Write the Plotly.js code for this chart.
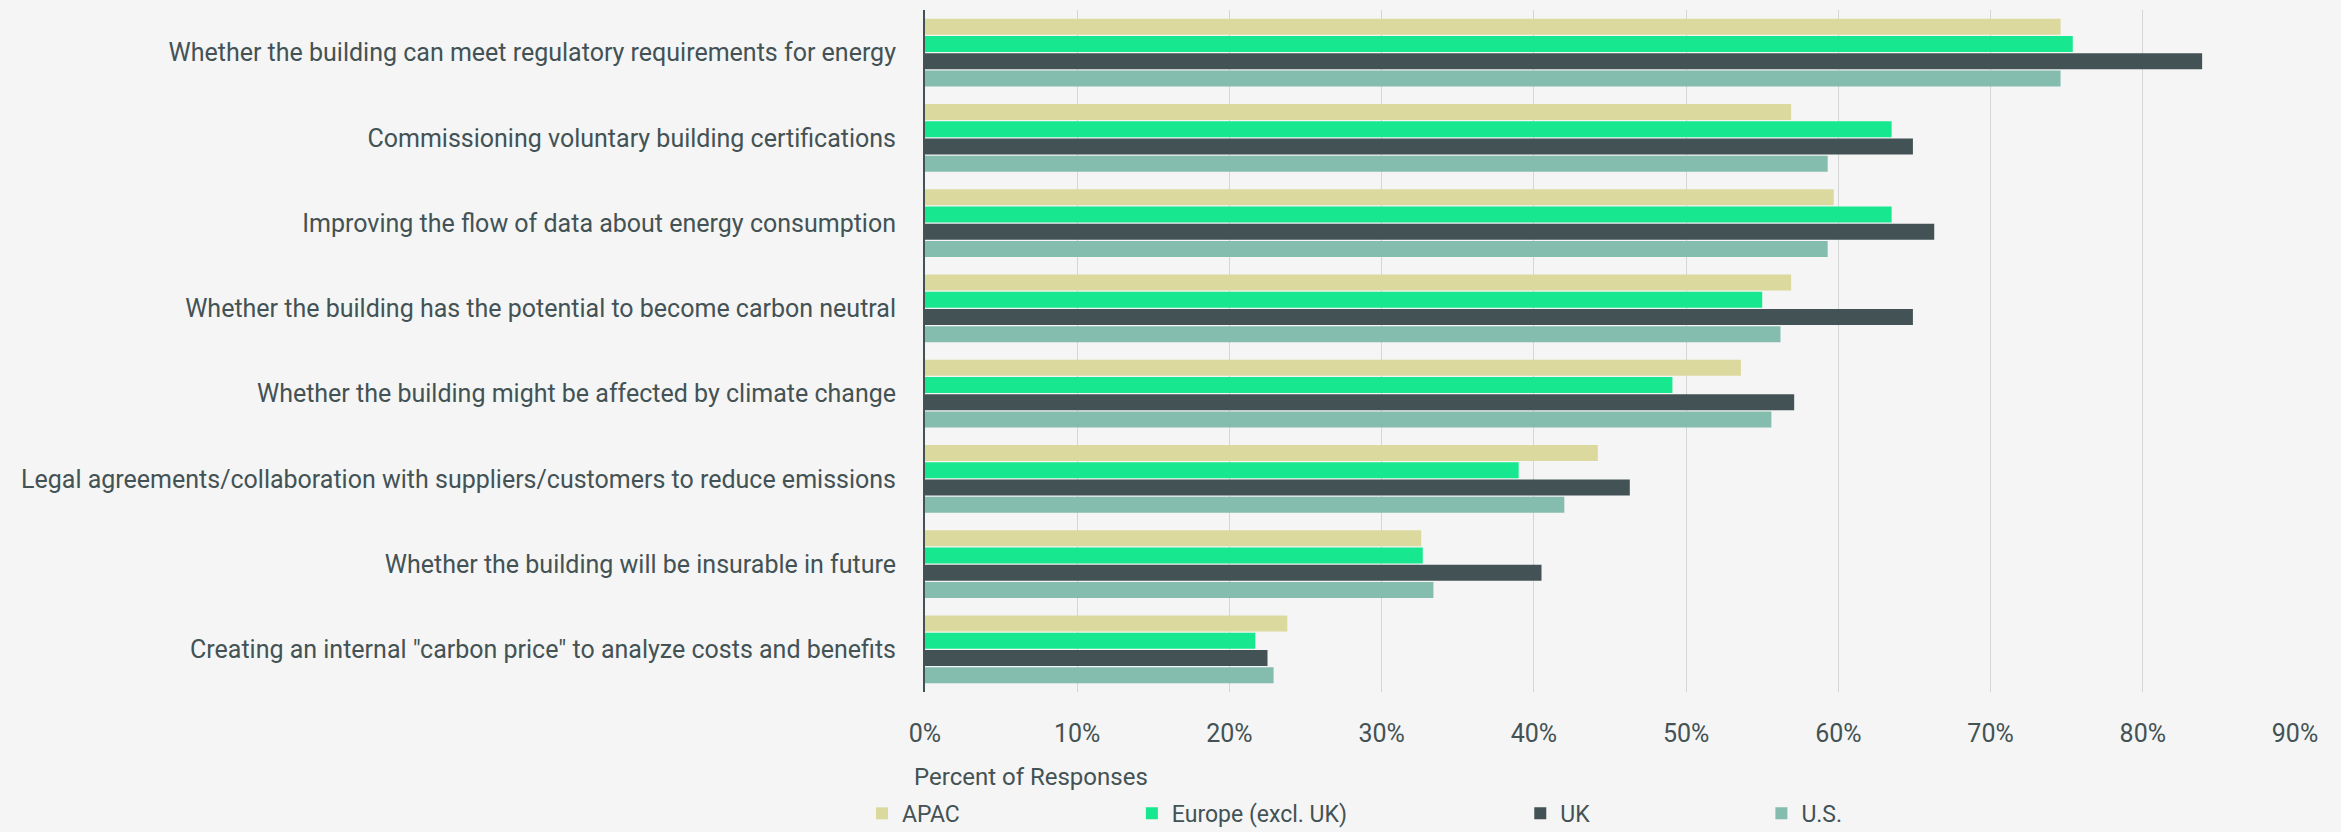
<!DOCTYPE html>
<html>
<head>
<meta charset="utf-8">
<script src="https://cdn.plot.ly/plotly-3.0.1.min.js"></script>
<style>
html,body{margin:0;padding:0;background:#f5f5f5;}
#chart{width:2341px;height:832px;}
</style>
</head>
<body>
<div id="chart"></div>
<script>
const categories = [
  "Whether the building can meet regulatory requirements for energy",
  "Commissioning voluntary building certifications",
  "Improving the flow of data about energy consumption",
  "Whether the building has the potential to become carbon neutral",
  "Whether the building might be affected by climate change",
  "Legal agreements/collaboration with suppliers/customers to reduce emissions",
  "Whether the building will be insurable in future",
  "Creating an internal \"carbon price\" to analyze costs and benefits"
];
const seriesNames = ["APAC", "Europe (excl. UK)", "UK", "U.S."];
const apac   = [74.6, 56.9, 59.7, 56.9, 53.6, 44.2, 32.6, 23.8];
const europe = [75.4, 63.5, 63.5, 55.0, 49.1, 39.0, 32.7, 21.7];
const uk     = [83.9, 64.9, 66.3, 64.9, 57.1, 46.3, 40.5, 22.5];
const us     = [74.6, 59.3, 59.3, 56.2, 55.6, 42.0, 33.4, 22.9];
const xTicks = [0, 10, 20, 30, 40, 50, 60, 70, 80, 90];

const colors = ["#dbd99e", "#17e88f", "#435254", "#84bcae"];
const values = [apac, europe, uk, us];
const legendIds = ["legend", "legend2", "legend3", "legend4"];
const textColor = "#435254";
const fontFam = "Roboto, 'Liberation Sans', sans-serif";

const traces = values.map((v, i) => ({
  type: "bar",
  orientation: "h",
  name: seriesNames[i],
  x: v,
  y: categories,
  marker: {color: colors[i], line: {width: 0}},
  legend: legendIds[i],
  hoverinfo: "x+name"
}));

// legend positions (paper x)
const legendX = [-0.046, 0.151, 0.4345, 0.6105];
const legendDefs = {};
legendIds.forEach((id, i) => {
  legendDefs[id] = {
    orientation: "h",
    x: legendX[i], xanchor: "left",
    y: -0.178, yanchor: "middle",
    bgcolor: "rgba(0,0,0,0)",
    font: {family: fontFam, size: 23, color: textColor},
    itemwidth: 30
  };
});

const layout = Object.assign({
  width: 2341,
  height: 832,
  margin: {l: 925, r: 46, t: 10, b: 140, autoexpand: false},
  paper_bgcolor: "#f5f5f5",
  plot_bgcolor: "#f5f5f5",
  barmode: "group",
  bargap: 0.19,
  bargroupgap: 0.08,
  font: {family: fontFam, size: 25, color: textColor},
  xaxis: {
    range: [0, 90],
    tickvals: xTicks,
    ticktext: xTicks.map(t => t + "%"),
    showgrid: true,
    gridcolor: "#d4d6d6",
    gridwidth: 1,
    zeroline: false,
    showline: false,
    ticks: "",
    ticklabelstandoff: 24,
    tickfont: {family: fontFam, size: 25, color: textColor},
    fixedrange: true,
    automargin: false
  },
  yaxis: {
    type: "category",
    autorange: "reversed",
    showgrid: false,
    zeroline: false,
    showline: true,
    linecolor: "#435254",
    linewidth: 2,
    ticks: "",
    ticklabelstandoff: 22,
    tickfont: {family: fontFam, size: 25, color: textColor},
    fixedrange: true,
    automargin: false
  },
  showlegend: true,
  annotations: [{
    text: "Percent of Responses",
    xref: "paper", yref: "paper",
    x: 0, y: -0.124,
    xshift: -13,
    xanchor: "left", yanchor: "middle",
    showarrow: false,
    font: {family: fontFam, size: 24, color: textColor}
  }]
}, legendDefs);

Plotly.newPlot("chart", traces, layout, {displayModeBar: false, staticPlot: true});
</script>
</body>
</html>
